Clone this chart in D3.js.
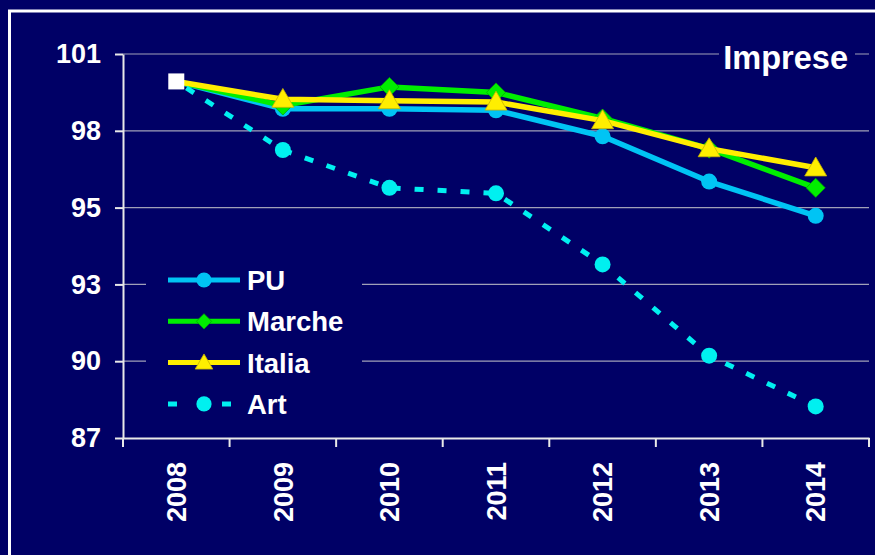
<!DOCTYPE html>
<html><head><meta charset="utf-8">
<script src="https://cdn.jsdelivr.net/npm/d3@7/dist/d3.min.js"></script>
<style>
html,body{margin:0;padding:0;background:#000066;}
svg{display:block;font-family:"Liberation Sans",Arial,sans-serif;font-weight:bold;}
</style></head>
<body>
<svg id="chart" width="875" height="555"></svg>
<script>
const years = ["2008","2009","2010","2011","2012","2013","2014"];
const PU     = [100.0, 99.0, 99.0, 98.95, 98.0, 96.35, 95.1];
const Marche = [100.0, 99.12, 99.8, 99.6, 98.65, 97.55, 96.12];
const Italia = [100.0, 99.35, 99.3, 99.25, 98.57, 97.55, 96.85];
const Art    = [100.0, 97.5, 96.12, 95.92, 93.33, 90.0, 88.15];
const yTickValues = [87, 89.8, 92.6, 95.4, 98.2, 101];
const yTickLabels = ["87","90","93","95","98","101"];
const title = "Imprese";

const series = [
  {name:"PU", values:PU, color:"#00c4f4", marker:"circle", dash:null},
  {name:"Marche", values:Marche, color:"#00ee00", marker:"diamond", dash:null},
  {name:"Italia", values:Italia, color:"#ffee00", marker:"triangle", dash:null},
  {name:"Art", values:Art, color:"#00f0f0", marker:"circle", dash:"9,14"}
];

const svg = d3.select("#chart");
svg.append("rect").attr("x",0).attr("y",0).attr("width",875).attr("height",555).attr("fill","#000066");
svg.append("rect").attr("x",9.5).attr("y",11).attr("width",900).attr("height",600)
  .attr("fill","none").attr("stroke","#ffffff").attr("stroke-width",3);

const pLeft=123, pRight=869, pTop=54, pBottom=438;
const x = d3.scaleBand().domain(years).range([pLeft,pRight]).padding(0);
const cx = d => x(d) + x.bandwidth()/2;
const y = d3.scaleLinear().domain([87,101]).range([pBottom,pTop]);

svg.append("g").selectAll("line").data(yTickValues.slice(1)).join("line")
  .attr("x1",pLeft).attr("x2",pRight).attr("y1",d=>y(d)).attr("y2",d=>y(d))
  .attr("stroke","#a0a0b8").attr("stroke-width",1.2);

const yAxis = svg.append("g").attr("transform",`translate(${pLeft},0)`)
  .call(d3.axisLeft(y).tickValues(yTickValues).tickFormat((d,i)=>yTickLabels[i]).tickSize(8).tickSizeOuter(0).tickPadding(14));
yAxis.select(".domain").attr("stroke","#e8e8e8").attr("stroke-width",2);
yAxis.selectAll(".tick line").attr("stroke","#e8e8e8").attr("stroke-width",2);
yAxis.selectAll(".tick text").attr("fill","#ffffff").attr("font-size","27px").attr("font-weight","bold")
  .attr("font-family","'Liberation Sans',Arial,sans-serif");

const xAxis = svg.append("g").attr("transform",`translate(0,${pBottom})`)
  .call(d3.axisBottom(x).tickSize(0).tickSizeOuter(0));
xAxis.select(".domain").attr("stroke","#e8e8e8").attr("stroke-width",2);
xAxis.selectAll(".tick text").attr("fill","#ffffff").attr("font-size","27px").attr("font-weight","bold")
  .attr("font-family","'Liberation Sans',Arial,sans-serif")
  .attr("transform","rotate(-90)").attr("text-anchor","end")
  .attr("x",-24).attr("y",0).attr("dy","0.36em");
const bounds = years.map(d=>x(d)).concat([pRight]);
svg.append("g").selectAll("line").data(bounds).join("line")
  .attr("x1",d=>d).attr("x2",d=>d).attr("y1",pBottom).attr("y2",pBottom+9)
  .attr("stroke","#e8e8e8").attr("stroke-width",2);

svg.append("rect").attr("x",719).attr("y",38).attr("width",136).attr("height",40).attr("fill","#000066");
svg.append("text").attr("x",848).attr("y",69).attr("text-anchor","end").attr("fill","#ffffff")
  .attr("font-size","32.5px").attr("font-weight","bold").text(title);

function drawMarker(g, type, px, py, color, scale){
  const s = scale||1;
  if(type==="circle"){
    g.append("circle").attr("cx",px).attr("cy",py).attr("r",8*s).attr("fill",color);
  } else if(type==="diamond"){
    const r=9.5*s;
    g.append("path").attr("d",`M${px},${py-r}L${px+r},${py}L${px},${py+r}L${px-r},${py}Z`).attr("fill",color)
      .attr("stroke","#00aa00").attr("stroke-width",0.8);
  } else if(type==="triangle"){
    const w=11*s, h=18*s;
    g.append("path").attr("d",`M${px},${py-h*0.6}L${px+w},${py+h*0.45}L${px-w},${py+h*0.45}Z`).attr("fill",color)
      .attr("stroke","#c8b400").attr("stroke-width",0.8);
  }
}

const line = d3.line().x((d,i)=>cx(years[i])).y(d=>y(d));
const gLines = svg.append("g");
series.forEach(s=>{
  const p = gLines.append("path").datum(s.values).attr("d",line)
    .attr("fill","none").attr("stroke",s.color).attr("stroke-width",s.dash?5:5.5)
    .attr("stroke-linejoin","round");
  if(s.dash) p.attr("stroke-dasharray",s.dash).attr("stroke-dashoffset",-12);
  s.values.forEach((v,i)=>{ if(i>0) drawMarker(gLines, s.marker, cx(years[i]), y(v), s.color); });
});
gLines.append("rect").attr("x",cx(years[0])-8).attr("y",y(PU[0])-8).attr("width",16).attr("height",16).attr("fill","#ffffff");

const lg = svg.append("g");
lg.append("rect").attr("x",146).attr("y",258).attr("width",216).attr("height",168).attr("fill","#000066");
series.forEach((s,i)=>{
  const ly = 280 + i*41.3;
  lg.append("line").attr("x1",168).attr("x2",240).attr("y1",ly).attr("y2",ly)
    .attr("stroke",s.color).attr("stroke-width",5).attr("stroke-dasharray",s.dash?"9,45":null);
  drawMarker(lg, s.marker, 204, ly, s.color, s.marker==="circle"?0.95:0.8);
  lg.append("text").attr("x",247).attr("y",ly).attr("dy","0.36em").attr("fill","#ffffff")
    .attr("font-size","27.5px").attr("font-weight","bold").text(s.name);
});
</script>
</body></html>
